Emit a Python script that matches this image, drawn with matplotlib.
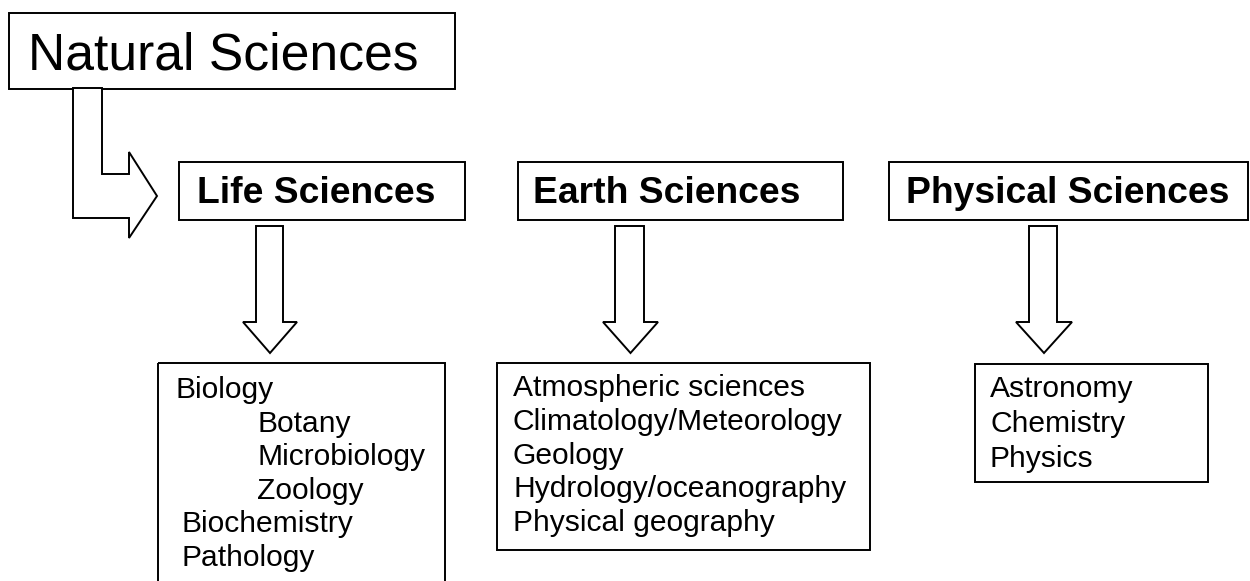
import matplotlib
matplotlib.use("Agg")
import matplotlib.pyplot as plt
from matplotlib.patches import Rectangle, Polygon

plt.rcParams['font.family'] = ['Liberation Sans', 'DejaVu Sans']

# diagram content
root_label = "Natural Sciences"
branch_labels = ["Life Sciences", "Earth Sciences", "Physical Sciences"]
life_items = ["Biology", "Botany", "Microbiology", "Zoology", "Biochemistry", "Pathology"]
life_indent = [0, 1, 1, 1, 0, 0]
earth_items = ["Atmospheric sciences", "Climatology/Meteorology", "Geology",
               "Hydrology/oceanography", "Physical geography"]
phys_items = ["Astronomy", "Chemistry", "Physics"]

W, H = 1250, 581
fig = plt.figure(figsize=(W / 100, H / 100), dpi=100)
ax = fig.add_axes([0, 0, 1, 1])
ax.set_xlim(0, W)
ax.set_ylim(H, 0)
ax.axis('off')

LW = 1.4

def box(x0, y0, x1, y1):
    ax.add_patch(Rectangle((x0, y0), x1 - x0, y1 - y0, fill=False,
                           edgecolor='black', linewidth=LW))

def down_arrow(sx0, sx1, hx0, hx1, y_top=226, y_neck=322, y_tip=353):
    mid = (hx0 + hx1) / 2
    pts = [(sx0, y_top), (sx1, y_top), (sx1, y_neck), (hx1, y_neck),
           (mid, y_tip), (hx0, y_neck), (sx0, y_neck)]
    ax.add_patch(Polygon(pts, closed=True, facecolor='white',
                         edgecolor='black', linewidth=LW, joinstyle='miter'))

# root box and bent arrow
box(9, 13, 455, 89)
ax.text(28, 70, root_label, fontsize=37.2, va='baseline', ha='left')
bent = [(73, 88), (102, 88), (102, 174), (129, 174), (129, 152), (157, 196),
        (129, 238), (129, 218), (73, 218)]
ax.add_patch(Polygon(bent, closed=True, facecolor='white', edgecolor='black',
                     linewidth=LW, joinstyle='miter'))

# branch boxes
branch_boxes = [(179, 162, 465, 220), (518, 162, 843, 220), (889, 162, 1248, 220)]
branch_text_x = [197, 533, 906]
for (x0, y0, x1, y1), tx, lab in zip(branch_boxes, branch_text_x, branch_labels):
    box(x0, y0, x1, y1)
    ax.text(tx, 203, lab, fontsize=26.8, fontweight='bold', va='baseline', ha='left')

# down arrows
down_arrow(256, 283, 243, 297)
down_arrow(615, 644, 603, 658)
down_arrow(1029, 1057, 1016, 1072)

FS = 21.6
# life sciences list (box runs off the bottom)
box(158, 363, 445, 600)
for i, (item, ind) in enumerate(zip(life_items, life_indent)):
    x = 175 if i == 0 else (257 if ind else 182)
    ax.text(x, 398 + i * 33.6, item, fontsize=FS, va='baseline', ha='left')

# earth sciences list
box(497, 363, 870, 550)
for i, item in enumerate(earth_items):
    ax.text(513, 396 + i * 33.8, item, fontsize=FS, va='baseline', ha='left')

# physical sciences list
box(975, 364, 1208, 482)
for i, item in enumerate(phys_items):
    ax.text(990, 397 + i * 35, item, fontsize=FS, va='baseline', ha='left')

fig.savefig("out.png", dpi=100, facecolor='white')
